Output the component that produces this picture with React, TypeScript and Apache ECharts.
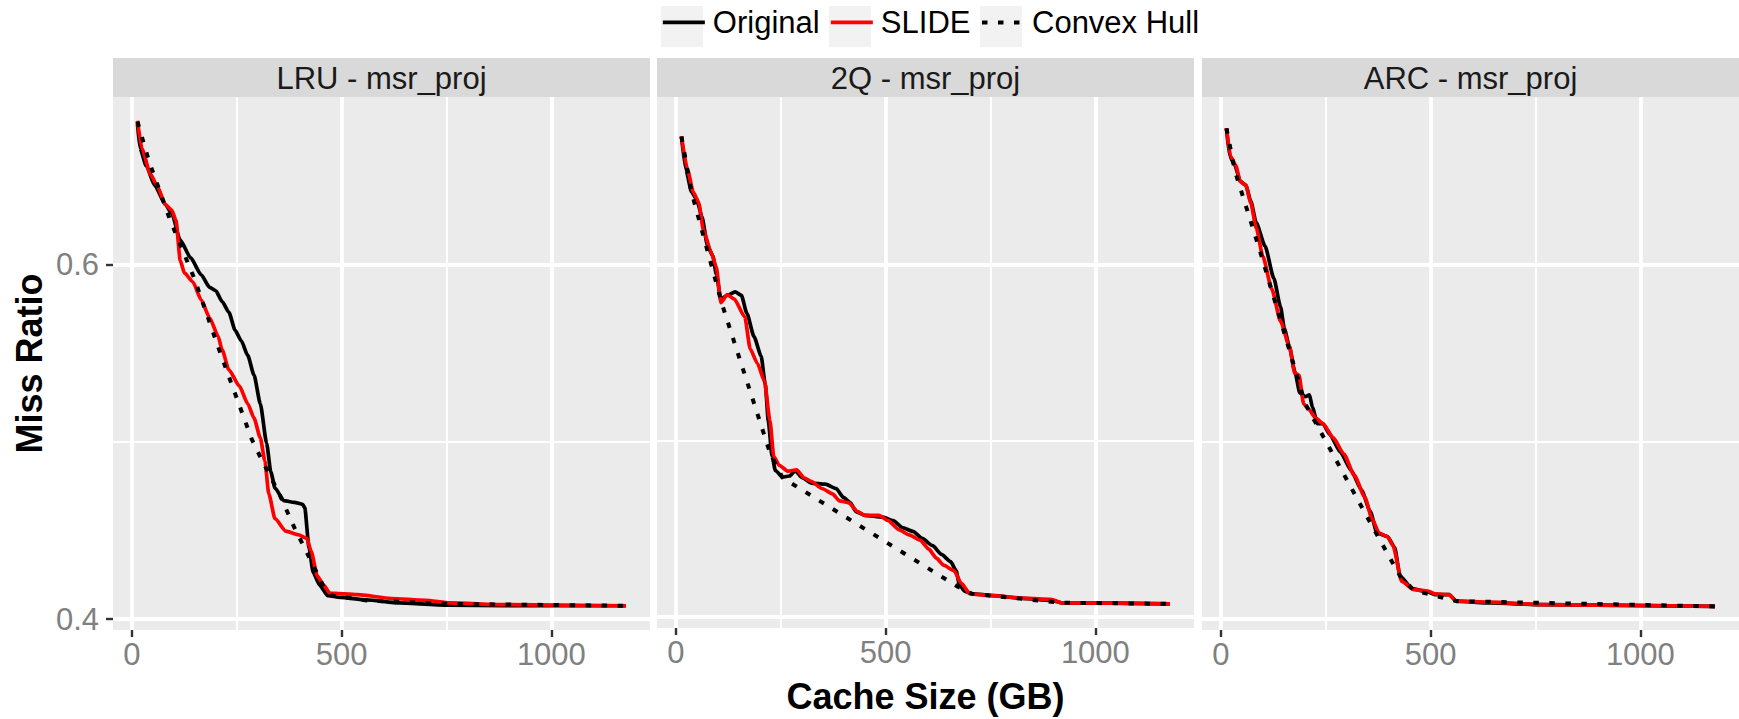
import React, { useEffect, useRef } from 'react';
import * as echarts from 'echarts';

// ---------- data ----------
const facets = ['LRU - msr_proj', '2Q - msr_proj', 'ARC - msr_proj'];
const seriesNames = ['Original', 'SLIDE', 'Convex Hull'];

const xMajorBreaks = [0, 500, 1000];
const xMinorBreaks = [250, 750];
const yMajorBreaks = [0.4, 0.6];
const yMinorBreaks = [0.5];

const lruOriginal = [
  [13, 0.680], [19, 0.666], [34, 0.656], [54, 0.645], [80, 0.634], [95, 0.629], [115, 0.614], [140, 0.604],
  [165, 0.5945], [185, 0.5874], [200, 0.5854], [215, 0.5793], [231, 0.5733], [246, 0.5631], [261, 0.557],
  [276, 0.5489], [291, 0.5378], [306, 0.5216], [321, 0.4993], [331, 0.4831], [341, 0.474], [362, 0.4669],
  [387, 0.4659], [407, 0.4648], [412, 0.4628], [422, 0.4405], [432, 0.4263], [447, 0.4193], [467, 0.4132],
  [497, 0.4122], [558, 0.4108], [638, 0.4091], [759, 0.4078], [890, 0.4075], [1178, 0.4075],
];
const lruSlide = [
  [13, 0.6815], [24, 0.6655], [44, 0.6513], [59, 0.6452], [80, 0.634], [95, 0.631], [105, 0.625], [115, 0.6026],
  [125, 0.5955], [145, 0.5905], [165, 0.5803], [185, 0.5702], [205, 0.56], [215, 0.552], [231, 0.5408],
  [256, 0.5317], [276, 0.5216], [291, 0.5135], [306, 0.5023], [317, 0.4892], [326, 0.4709], [341, 0.4567],
  [367, 0.4496], [397, 0.4476], [417, 0.4456], [427, 0.4384], [442, 0.4242], [457, 0.4192], [472, 0.4146],
  [538, 0.4138], [618, 0.4116], [699, 0.4106], [759, 0.4091], [890, 0.4081], [1178, 0.4075],
];
const lruHull = [
  [13, 0.681], [40, 0.659], [90, 0.626], [150, 0.5915], [205, 0.554], [236, 0.5337], [286, 0.5013],
  [311, 0.4892], [351, 0.4709], [387, 0.4517], [432, 0.4304], [457, 0.4182], [478, 0.4132], [560, 0.4105],
  [760, 0.4085], [1178, 0.4075],
];

const q2Original = [
  [13, 0.6725], [24, 0.6533], [37, 0.6411], [49, 0.637], [62, 0.627], [75, 0.6107], [88, 0.6047], [96, 0.5945],
  [107, 0.5803], [122, 0.5824], [141, 0.5844], [156, 0.5824], [169, 0.5722], [186, 0.5591], [203, 0.548],
  [213, 0.5317], [220, 0.5114], [229, 0.4912], [237, 0.4831], [254, 0.4794], [271, 0.48], [284, 0.4831],
  [301, 0.479], [322, 0.476], [356, 0.4754], [382, 0.4729], [399, 0.4679], [416, 0.4648], [429, 0.4598],
  [450, 0.4577], [493, 0.4567], [518, 0.4547], [540, 0.4507], [565, 0.4486], [587, 0.4446], [612, 0.4405],
  [633, 0.4355], [655, 0.4314], [668, 0.4263], [676, 0.4182], [689, 0.4146], [706, 0.4132], [757, 0.4122],
  [825, 0.4106], [894, 0.4095], [919, 0.4081], [1178, 0.4075],
];
const q2Slide = [
  [13, 0.6725], [28, 0.6533], [41, 0.6411], [54, 0.635], [66, 0.6188], [84, 0.6067], [96, 0.5986], [107, 0.5783],
  [122, 0.5828], [139, 0.5803], [164, 0.5702], [177, 0.552], [194, 0.5439], [211, 0.5337], [224, 0.5114],
  [233, 0.4912], [246, 0.4861], [267, 0.4827], [288, 0.4835], [305, 0.479], [322, 0.477], [348, 0.4729],
  [373, 0.4699], [390, 0.4659], [412, 0.4648], [433, 0.4598], [450, 0.4577], [484, 0.4577], [506, 0.4547],
  [531, 0.4496], [556, 0.4466], [582, 0.4436], [603, 0.4385], [621, 0.4334], [638, 0.4294], [663, 0.4263],
  [680, 0.4193], [701, 0.4132], [749, 0.4122], [834, 0.4106], [894, 0.4101], [919, 0.4081], [1178, 0.4075],
];
const q2Hull = [
  [13, 0.6725], [37, 0.641], [109, 0.578], [224, 0.4932], [254, 0.479], [672, 0.4172], [706, 0.4132],
  [919, 0.4081], [1178, 0.4075],
];

const arcOriginal = [
  [13, 0.6772], [21, 0.6614], [33, 0.6563], [46, 0.6472], [59, 0.6452], [71, 0.6361], [84, 0.6239], [105, 0.6107],
  [126, 0.5925], [142, 0.5763], [151, 0.5641], [163, 0.554], [176, 0.5398], [188, 0.5277], [201, 0.5256],
  [211, 0.5266], [218, 0.5196], [230, 0.5104], [243, 0.5104], [259, 0.5044], [285, 0.4942], [310, 0.4841],
  [335, 0.4729], [356, 0.4608], [372, 0.4486], [397, 0.4466], [414, 0.4405], [427, 0.4243], [456, 0.4172],
  [494, 0.4152], [510, 0.4138], [544, 0.4138], [561, 0.4101], [644, 0.4091], [762, 0.4081], [1178, 0.4071],
];
const arcSlide = [
  [13, 0.6772], [23, 0.6614], [35, 0.6563], [46, 0.6472], [59, 0.6452], [71, 0.6351], [84, 0.6209], [100, 0.6047],
  [121, 0.5864], [142, 0.5682], [163, 0.554], [176, 0.5388], [186, 0.5378], [197, 0.5216], [209, 0.5185],
  [226, 0.5135], [243, 0.5104], [268, 0.5023], [293, 0.4932], [318, 0.4811], [343, 0.4689], [360, 0.4567],
  [377, 0.4486], [397, 0.4466], [410, 0.4415], [431, 0.4213], [460, 0.4166], [494, 0.4158], [510, 0.4142],
  [544, 0.4138], [561, 0.4101], [644, 0.4095], [762, 0.4081], [1178, 0.4071],
];
const arcHull = [
  [13, 0.6772], [33, 0.6533], [92, 0.6087], [201, 0.5216], [360, 0.4527], [427, 0.4243], [460, 0.4162],
  [561, 0.4101], [1178, 0.4071],
];

const facetData = [
  [lruOriginal, lruSlide, lruHull],
  [q2Original, q2Slide, q2Hull],
  [arcOriginal, arcSlide, arcHull],
];

// ---------- layout / style ----------
const FONT = 'Liberation Sans, Arial, Helvetica, sans-serif';
const panelLefts = [113, 657, 1202];
const panelWidth = 537;
const panelTop = 97;
const panelHeight = 533;
const stripTop = 58;
const xRange = [-45.3, 1235.2];
const yRange = [0.3938, 0.6949];
const seriesColors = ['#000000', '#ff0000', '#000000'];
const seriesDash: any[] = ['solid', 'solid', [5.5, 10.5]];
const seriesWidths = [3.7, 3.7, 4];
const legendLefts = [661, 829, 980];

export default function App() {
  const ref = useRef<HTMLDivElement>(null);

  useEffect(() => {
    document.body.style.margin = '0';
    document.body.style.overflow = 'hidden';
    const chart = echarts.init(ref.current!, null, { renderer: 'svg' });

    const grids = panelLefts.map((left) => ({
      left,
      top: panelTop,
      width: panelWidth,
      height: panelHeight,
      show: true,
      backgroundColor: '#ebebeb',
      borderWidth: 0,
    }));

    const xAxes = panelLefts.map((_, i) => ({
      type: 'value',
      gridIndex: i,
      min: xRange[0],
      max: xRange[1],
      axisLine: { show: false, onZero: false },
      axisTick: { show: true, length: 7, customValues: xMajorBreaks, lineStyle: { color: '#333333', width: 2.4 } },
      axisLabel: {
        show: true,
        customValues: xMajorBreaks,
        formatter: (v: number) => String(v),
        margin: 9,
        color: '#808080',
        fontSize: 31,
        fontFamily: FONT,
      },
      splitLine: { show: true, lineStyle: { color: '#ffffff', width: 3.8 } },
      name: i === 1 ? 'Cache Size (GB)' : '',
      nameLocation: 'middle',
      nameGap: 50,
      nameTextStyle: { fontSize: 36, fontWeight: 'bold', color: '#000000', fontFamily: FONT },
    }));

    const yAxes = panelLefts.map((_, i) => ({
      type: 'value',
      gridIndex: i,
      min: yRange[0],
      max: yRange[1],
      axisLine: { show: false, onZero: false },
      axisTick: {
        show: i === 0,
        length: 7,
        customValues: yMajorBreaks,
        lineStyle: { color: '#333333', width: 2.4 },
      },
      axisLabel: {
        show: i === 0,
        customValues: yMajorBreaks,
        formatter: (v: number) => String(v),
        margin: 14,
        color: '#808080',
        fontSize: 31,
        fontFamily: FONT,
      },
      splitLine: { show: true, lineStyle: { color: '#ffffff', width: 3.8 } },
      name: i === 0 ? 'Miss Ratio' : '',
      nameLocation: 'middle',
      nameRotate: 90,
      nameGap: 66,
      nameTextStyle: { fontSize: 36, fontWeight: 'bold', color: '#000000', fontFamily: FONT },
    }));

    const series: any[] = [];
    facetData.forEach((group, i) => {
      series.push({
        type: 'line',
        name: '__minor' + i,
        xAxisIndex: i,
        yAxisIndex: i,
        data: [],
        silent: true,
        z: 1,
        markLine: {
          z: 1,
          silent: true,
          symbol: ['none', 'none'],
          label: { show: false },
          emphasis: { disabled: true },
          lineStyle: { color: '#ffffff', width: 1.9, type: 'solid' },
          data: [
            ...xMinorBreaks.map((v) => ({ xAxis: v })),
            ...yMinorBreaks.map((v) => ({ yAxis: v })),
          ],
        },
      });
      group.forEach((d, k) => {
        series.push({
          type: 'line',
          name: seriesNames[k],
          xAxisIndex: i,
          yAxisIndex: i,
          data: d,
          symbol: 'none',
          smooth: k === 2 ? false : 0.2,
          smoothMonotone: 'x',
          z: 2 + k,
          lineStyle: { color: seriesColors[k], width: seriesWidths[k], type: seriesDash[k], cap: 'butt' },
          itemStyle: { color: seriesColors[k] },
          emphasis: { disabled: true },
        });
      });
    });

    const legends = seriesNames.map((name, k) => ({
      show: true,
      data: [name],
      left: legendLefts[k],
      top: 6,
      padding: 0,
      itemWidth: 42,
      itemHeight: 41,
      itemGap: 0,
      selectedMode: false,
      itemStyle: { color: 'rgba(0,0,0,0)', borderWidth: 0, opacity: 0 },
      lineStyle: { width: seriesWidths[k], type: seriesDash[k], color: seriesColors[k], opacity: 1 },
      textStyle: { fontSize: 31, color: '#000000', fontFamily: FONT, padding: [0, 0, 0, 3] },
    }));

    const graphics: any[] = [];
    legendLefts.forEach((lx) => {
      graphics.push({
        type: 'rect',
        shape: { x: lx, y: 6, width: 42, height: 41 },
        style: { fill: '#f2f2f2' },
        z: -1,
        silent: true,
      });
    });
    facets.forEach((label, i) => {
      graphics.push({
        type: 'rect',
        shape: { x: panelLefts[i], y: stripTop, width: panelWidth, height: panelTop - stripTop },
        style: { fill: '#d9d9d9' },
        silent: true,
      });
      graphics.push({
        type: 'text',
        x: panelLefts[i] + panelWidth / 2,
        y: (stripTop + panelTop) / 2 + 1,
        style: {
          text: label,
          fill: '#1a1a1a',
          fontSize: 31,
          fontFamily: FONT,
          textAlign: 'center',
          textVerticalAlign: 'middle',
        },
        silent: true,
      });
    });

    chart.setOption({
      animation: false,
      backgroundColor: '#ffffff',
      grid: grids,
      xAxis: xAxes,
      yAxis: yAxes,
      legend: legends,
      series,
      graphic: graphics,
    });

    return () => chart.dispose();
  }, []);

  return <div ref={ref} style={{ width: 1739, height: 719 }} />;
}
